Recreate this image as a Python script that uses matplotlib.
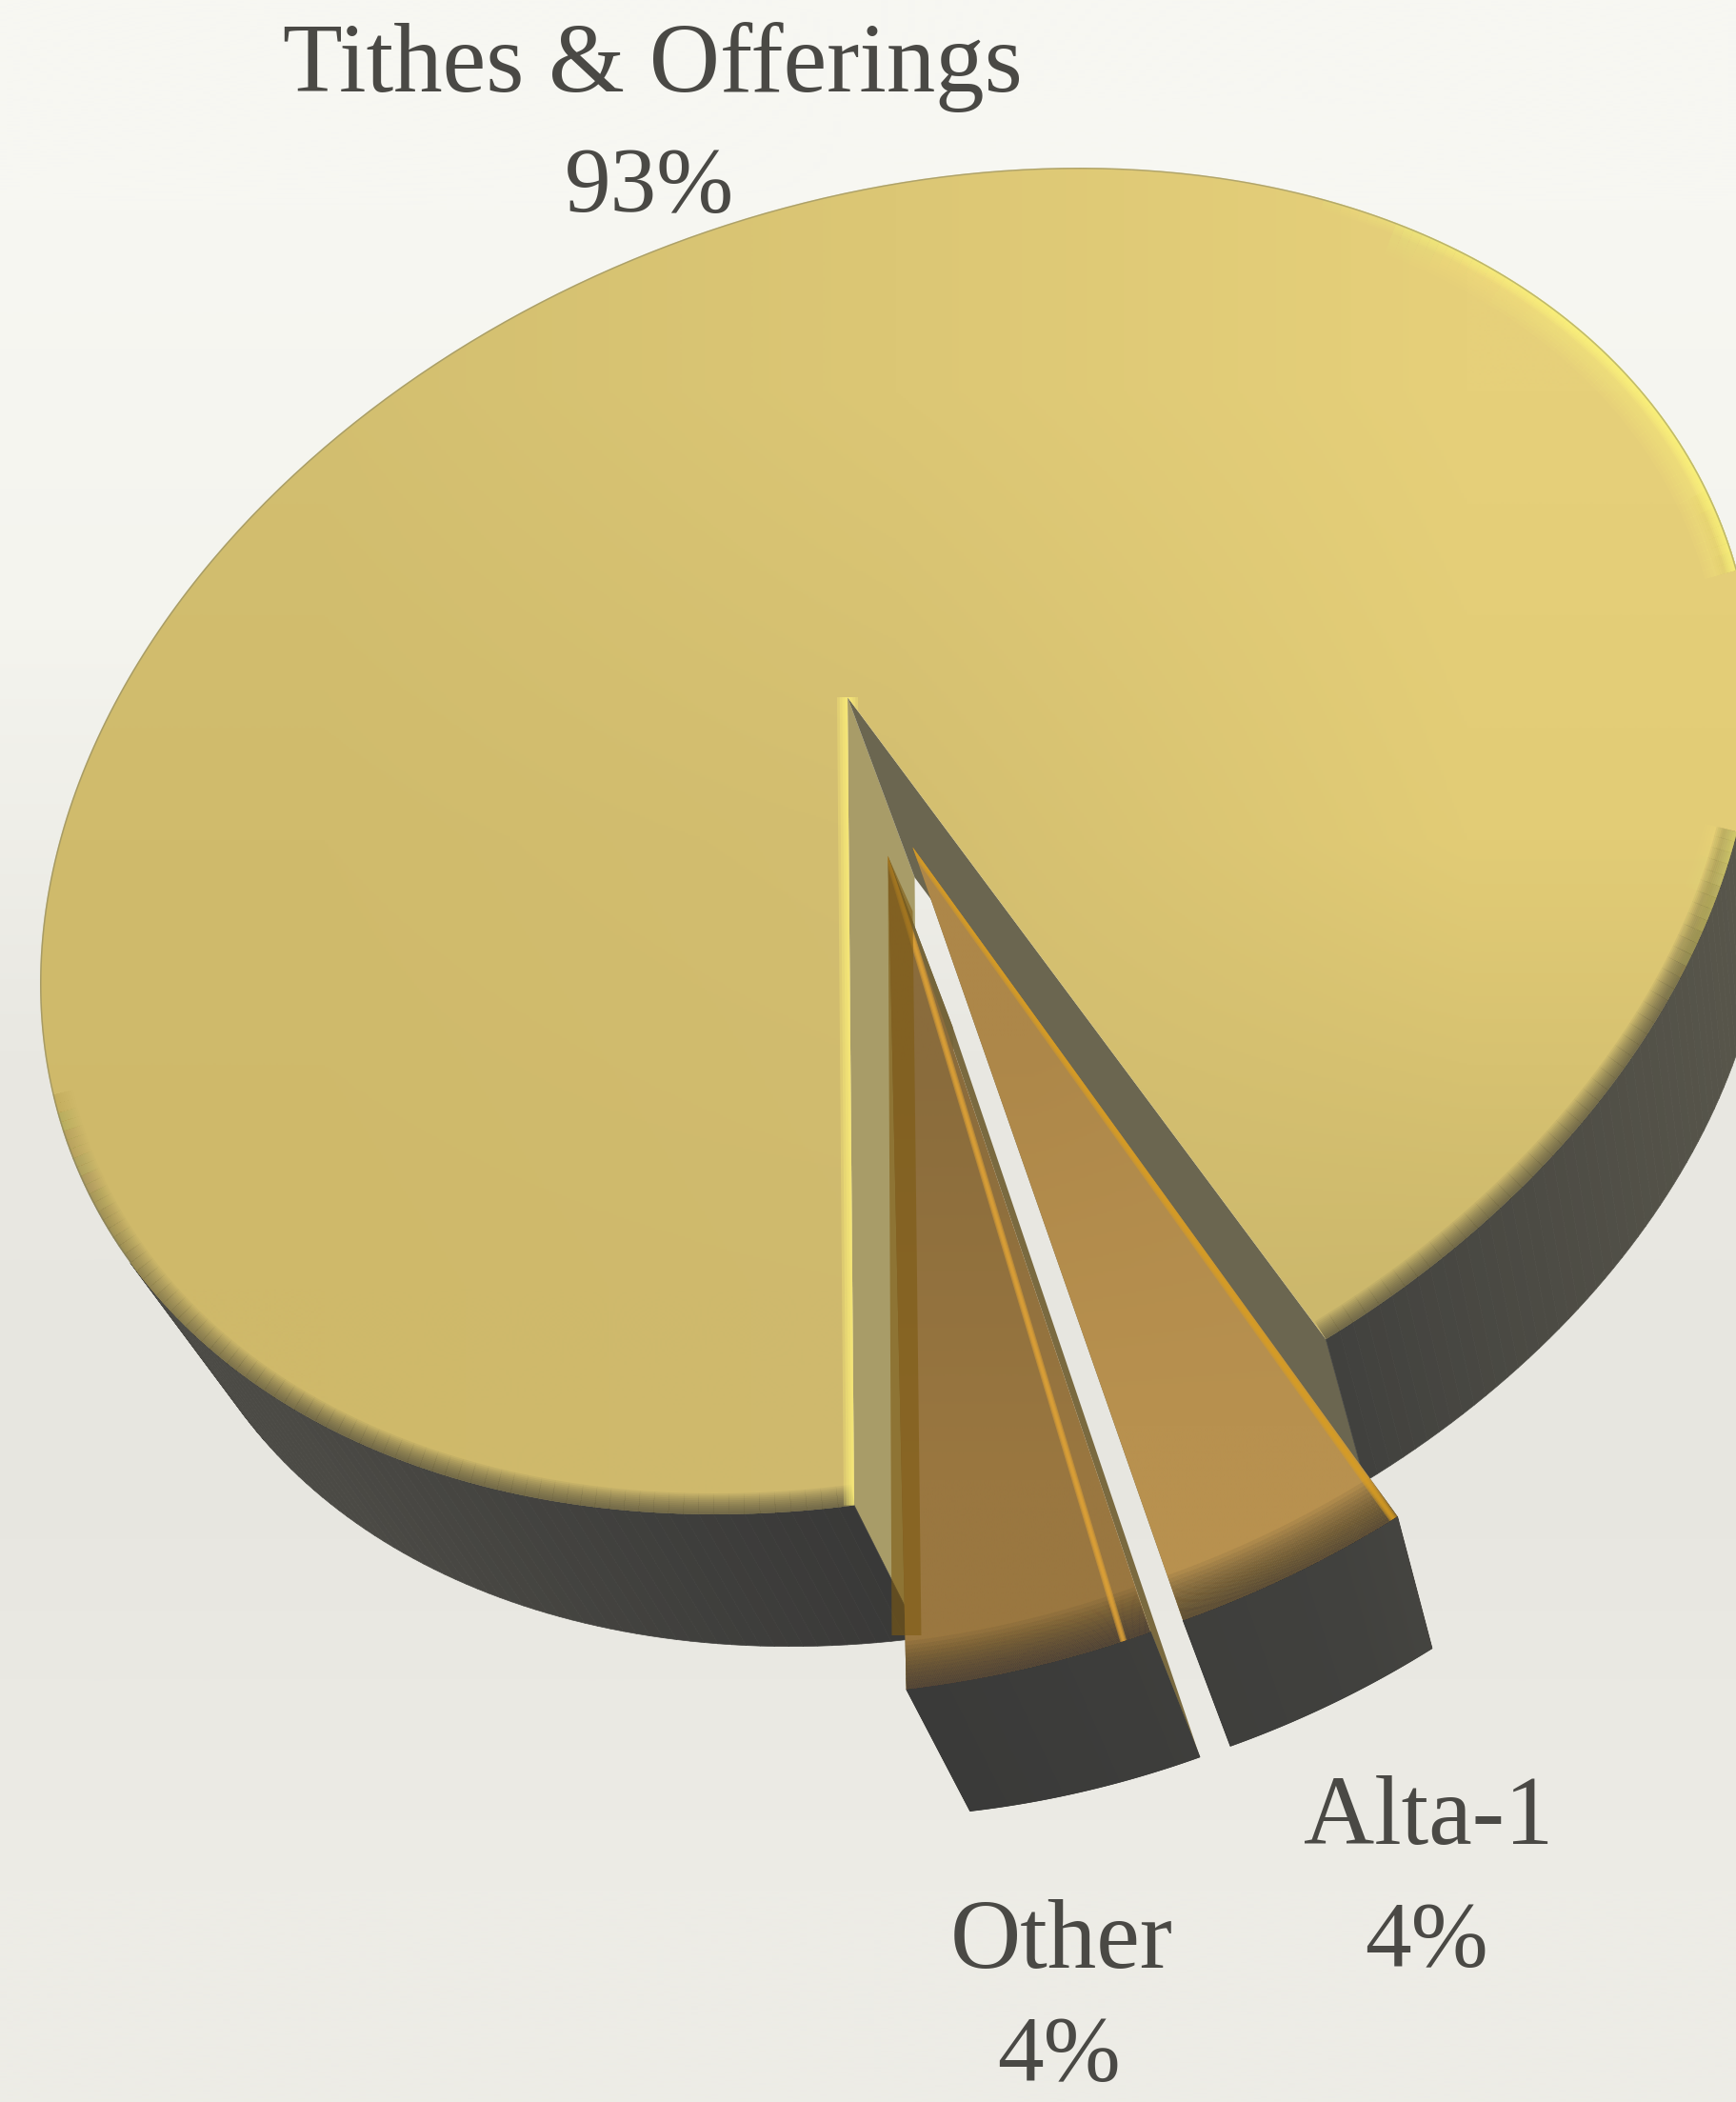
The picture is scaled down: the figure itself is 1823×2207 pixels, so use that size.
import numpy as np
import matplotlib
matplotlib.use("Agg")
import matplotlib.pyplot as plt
from matplotlib.collections import LineCollection, PolyCollection
from matplotlib.colors import to_rgb
from matplotlib.patches import PathPatch
from matplotlib.path import Path

categories = ["Tithes & Offerings", "Alta-1", "Other"]
values = [93, 4, 4]
# the drawn slices are a bit narrower than the rounded labels
slice_sizes = [93, 3.5, 3.7]
explode = [0.0, 0.255, 0.255]
radius = [1.0, 0.92, 0.92]

W, H = 1823, 2207
TEXT = "#4a4945"

# ellipse of the pie top in the picture, and where the pie centre lands
centre = np.array([942.0, 883.0])
shape = np.array([[810000.0, -135000.0], [-135000.0, 499849.0]])
apex = np.array([890.0, 732.0])
left_edge_end = np.array([897.0, 1584.0])
vanish = np.array([2085.0, 3940.0])
depth = 0.059

A = np.linalg.cholesky(shape)
q = np.linalg.solve(A, apex - centre)
gamma = 1 / np.sqrt(1 - q @ q)
n = q / np.sqrt(q @ q)
L = np.eye(3)
L[:2, :2] += (gamma - 1) * np.outer(n, n)
L[:2, 2] = gamma * q
L[2, :2] = gamma * q
L[2, 2] = gamma


def project(u):
    u = np.atleast_2d(u)
    h = L @ np.c_[u, np.ones(len(u))].T
    return centre + (A @ (h[:2] / h[2])).T


def extrude(p):
    return p + depth * (vanish - p)


Linv = np.linalg.inv(L)
t = np.linalg.solve(A, left_edge_end - centre)
h0 = Linv @ np.r_[t, 1]
start = np.arctan2(h0[1], h0[0])


def lerp_colour(x, xs, cols):
    rgb = np.array([to_rgb(c) for c in cols])
    return np.c_[[np.interp(x, xs, rgb[:, i]) for i in range(3)]].T


def px(v):
    return v * 72 / 100


fig = plt.figure(figsize=(W / 100, H / 100), dpi=100)
ax = fig.add_axes([0, 0, 1, 1])
ax.set_axis_off()

# paper
bg = np.array([[to_rgb("#f7f7f2")], [to_rgb("#f4f4ee")], [to_rgb("#e9e8e2")], [to_rgb("#e7e6e0")], [to_rgb("#edece6")]])
ax.imshow(bg, extent=(0, W, H, 0), aspect="auto", interpolation="bilinear", zorder=0)


def fill_grad(patch, grid):
    xy = patch.get_path().vertices
    x0, y0 = xy.min(axis=0)
    x1, y1 = xy.max(axis=0)
    img = np.array([[to_rgb(c) for c in row] for row in grid])
    im = ax.imshow(img, extent=(x0, x1, y1, y0), aspect="auto", interpolation="bilinear", zorder=patch.get_zorder())
    im.set_clip_path(patch)


def soft_line(pts, colour, width, clip, z, alpha=0.16, steps=6, weight=None):
    segs = np.stack([pts[:-1], pts[1:]], axis=1)
    if weight is None:
        weight = np.ones(len(pts))
    for w in np.linspace(width / steps, width, steps):
        rgba = np.zeros((len(segs), 4))
        rgba[:, :3] = to_rgb(colour)
        rgba[:, 3] = alpha * weight[:-1]
        lc = LineCollection(segs, colors=rgba, linewidths=px(w), zorder=z, capstyle="butt")
        ax.add_collection(lc)
        lc.set_clip_path(clip)


def draw_slice(th0, th1, off, rad, shift_dir, z, grid, wall_l, wall_r, edge_blur, blur_alpha):
    shift = off * np.array([np.cos(shift_dir), np.sin(shift_dir)])
    th = np.linspace(th0, th1, 400)
    arc = project(rad * np.c_[np.cos(th), np.sin(th)] + shift)
    arc_b = extrude(arc)
    tip = project(shift)[0]
    tip_b = extrude(tip)

    tan = np.gradient(arc, axis=0)
    ext = arc_b - arc
    vis = tan[:, 0] * ext[:, 1] - tan[:, 1] * ext[:, 0] < 0

    ax.fill([tip[0], arc[0, 0], arc_b[0, 0], tip_b[0]], [tip[1], arc[0, 1], arc_b[0, 1], tip_b[1]], color=wall_l, lw=0, zorder=z)
    ax.fill([tip[0], arc[-1, 0], arc_b[-1, 0], tip_b[0]], [tip[1], arc[-1, 1], arc_b[-1, 1], tip_b[1]], color=wall_r, lw=0, zorder=z)

    quads = []
    cols = []
    for i in range(len(arc) - 1):
        if vis[i]:
            quads.append([arc[i], arc[i + 1], arc_b[i + 1], arc_b[i]])
            cols.append(lerp_colour(arc[i, 0], [300, 900, 1400, 1823], ["#4b4a45", "#393938", "#41413e", "#58564b"])[0])
    ax.add_collection(PolyCollection(quads, facecolors=cols, edgecolors=cols, linewidths=0.5, zorder=z + 0.05))

    top = np.vstack([tip, arc, tip])
    patch = PathPatch(Path(top), facecolor="none", edgecolor="none", zorder=z + 0.1)
    ax.add_patch(patch)
    fill_grad(patch, grid)

    # ease the shadow in so it has no hard start on the rim
    fade = np.convolve(np.pad(vis.astype(float), 20, mode="edge"), np.ones(41) / 41, mode="valid")
    soft_line(arc, "#3a3a36", edge_blur, patch, z + 0.2, alpha=blur_alpha, steps=12, weight=fade)
    return tip, arc, arc_b, patch, shift, vis


total = sum(slice_sizes)
spans = [v / total * 2 * np.pi for v in slice_sizes]
th_main = (start, start + spans[0])
th_alta = (th_main[1], th_main[1] + spans[1])
th_other = (th_alta[1], th_alta[1] + spans[2])
gap_mid = th_alta[1]

main_grid = [["#d3bf70", "#dcc775", "#e6d07a"],
             ["#d0bb6c", "#d3be70", "#e2cc76"],
             ["#cfb96a", "#cfba6e", "#ccb86c"]]
tip, arc, arc_b, main_patch, _, main_vis = draw_slice(*th_main, explode[0], radius[0], 0.0, 2, main_grid,
                                                      "#a89c68", "#6b6650", 44, 0.07)

# rim light on the upper right of the big slice, fading out both ways
rim_w = np.clip((arc[:, 0] - 1350) / 300, 0, 1) * np.clip((1050 - arc[:, 1]) / 350, 0, 1)
soft_line(arc, "#fff27a", 70, main_patch, 2.3, alpha=0.08, steps=10, weight=rim_w)
soft_line(arc, "#fff87e", 24, main_patch, 2.3, alpha=0.2, steps=6, weight=rim_w)
# fine grey outline on the lit side
soft_line(arc, "#77775f", 3, main_patch, 2.35, alpha=0.45, steps=1, weight=1.0 - main_vis.astype(float))

# bevel light down the left cut
a = th_main[0]
bevel = project(np.array([[0, 0], [np.cos(a), np.sin(a)]]))
soft_line(bevel, "#fff27a", 22, main_patch, 2.4, alpha=0.3, steps=4)

alta_grid = [["#ad8749", "#b08a4c"], ["#b8914f", "#b8914f"]]
mid_a = 0.5 * (th_alta[0] + th_alta[1]) * 0.5 + 0.5 * gap_mid
tip_a, arc_a, arc_ab, patch_a, shift_a, _ = draw_slice(*th_alta, explode[1], radius[1], mid_a, 4, alta_grid,
                                                       "#7a6a45", "#6f6340", 100, 0.08)
other_grid = [["#8a6c3c", "#8a6c3c"], ["#9a7740", "#9a7740"]]
mid_o = 0.5 * (th_other[0] + th_other[1]) * 0.5 + 0.5 * gap_mid
tip_o, arc_o, arc_ob, patch_o, shift_o, _ = draw_slice(*th_other, explode[2], radius[2], mid_o, 3, other_grid,
                                                       "#7a6a40", "#75653a", 100, 0.08)

# gold bevels along the cut faces
a = th_alta[0] + np.radians(0.25)
line_a = project(radius[1] * np.array([[0, 0], [np.cos(a), np.sin(a)]]) + shift_a)
soft_line(line_a, "#d99d22", 9, patch_a, 4.3, alpha=0.5, steps=3)
a = th_other[0] + np.radians(1.5)
line_o = project(radius[2] * np.array([[0, 0], [np.cos(a), np.sin(a)]]) + shift_o)
soft_line(line_o, "#e2a436", 7, patch_o, 3.3, alpha=0.5, steps=3)

# see-through strip on the left of the Other slice
strip_x = [tip_o[0], tip_o[0] + 26, tip_o[0] + 35, tip_o[0] + 4]
strip_y = [tip_o[1], tip_o[1] + 58, 1717, 1717]
ax.fill(strip_x, strip_y, color="#7d5a12", alpha=0.6, lw=0, zorder=3.4)

# labels
label_pos = [((685, 96), (682, 222)), ((1500, 1936), (1498, 2064)), ((1115, 2066), (1112, 2184))]
for name, val, (p1, p2) in zip(categories, values, label_pos):
    ax.text(p1[0], p1[1], name, ha="center", va="baseline", fontsize=74, family="Liberation Serif", color=TEXT, zorder=6)
    ax.text(p2[0], p2[1], f"{val}%", ha="center", va="baseline", fontsize=70, family="Liberation Serif", color=TEXT, zorder=6)

ax.set_xlim(0, W)
ax.set_ylim(H, 0)
fig.savefig("out.png", dpi=100)
